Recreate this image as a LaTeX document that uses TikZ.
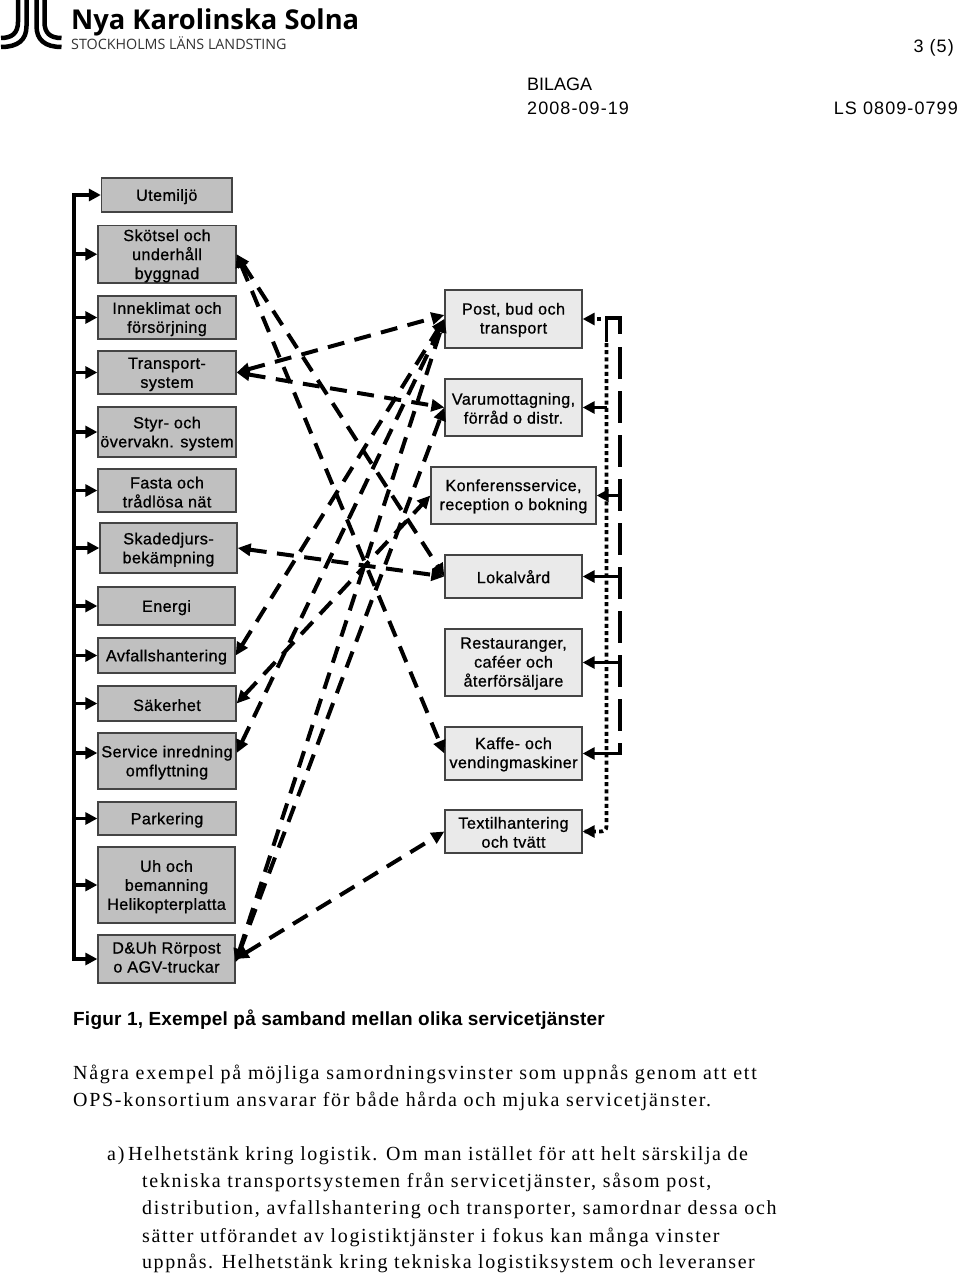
\documentclass[tikz,border=0pt]{standalone}
\usepackage{fontspec}
\usetikzlibrary{arrows.meta,calc}
\setmainfont{Liberation Sans}
\newfontfamily\boxfont[LetterSpace=2.5,FakeBold=0.8]{Liberation Sans}
\newfontfamily\headfont[LetterSpace=6]{Liberation Sans}
\newfontfamily\headplain{Liberation Sans}
\newfontfamily\figfont[LetterSpace=1.1]{Liberation Sans Bold}
\newfontfamily\bodyfont[LetterSpace=8.5]{Liberation Serif}
\newfontfamily\logobold{Open Sans Bold}
\newfontfamily\logoreg{Open Sans}
\definecolor{boxdark}{HTML}{C0C0C0}
\definecolor{boxlight}{HTML}{EAEAEA}
\definecolor{boxline}{HTML}{444444}
\definecolor{logogrey}{HTML}{333333}
\newcommand\leftbox[6]{\node[leftstyle,minimum width=#4pt-#2pt,minimum height=#5pt-#3pt] (#1) at ({(#2+#4)/2},{(#3+#5)/2}) {\rule{0pt}{15pt}#6};}
\newcommand\rightbox[6]{\node[rightstyle,minimum width=#4pt-#2pt,minimum height=#5pt-#3pt] (#1) at ({(#2+#4)/2},{(#3+#5)/2}) {\rule{0pt}{13.5pt}#6};}
\tikzset{
  x=1pt,y=-1pt,
  basebox/.style={draw=boxline,line width=1.3pt,inner sep=0pt,align=center,font=\boxfont\fontsize{16.2}{19}\selectfont},
  leftstyle/.style={basebox,fill=boxdark},
  rightstyle/.style={basebox,fill=boxlight},
  tiptri/.style={-{Triangle[length=12pt,width=12pt]}},
  feed/.style={line width=3.6pt,tiptri},
  bus/.style={line width=4.5pt},
  link/.style={line width=4pt,dash pattern=on 17pt off 10.5pt,{Triangle[length=13pt,width=12pt]}-{Triangle[length=13pt,width=12pt]}},
  longdash/.style={line width=3.8pt,dash pattern=on 32pt off 12pt},
  dotline/.style={line width=3.8pt,dash pattern=on 4pt off 3.2pt},
  headtext/.style={inner sep=0pt,font=\headfont\fontsize{18}{20}\selectfont},
  figtext/.style={inner sep=0pt,anchor=base west,font=\figfont\fontsize{19}{21}\selectfont},
  bodytext/.style={inner sep=0pt,anchor=base west,font=\bodyfont\fontsize{20}{22}\selectfont},
  logostroke/.style={line width=4.5pt,line cap=butt}
}
\begin{document}
\begin{tikzpicture}
\useasboundingbox (0,0) rectangle (960,1276);
% logo
\draw[logostroke] (18,-1) -- (18,22) .. controls (18,33) and (12,38) .. (1,38);
\draw[logostroke] (26.5,-1) -- (26.5,26) .. controls (26.5,40) and (18,47) .. (1,47);
\draw[logostroke] (36.5,-1) -- (36.5,26) .. controls (36.5,40) and (45,47) .. (61.5,47);
\draw[logostroke] (44.5,-1) -- (44.5,22) .. controls (44.5,33) and (50,38) .. (61.5,38);
\node[inner sep=0pt,anchor=base west,font=\logobold\fontsize{27.3}{30}\selectfont] (logoa) at (71,30) {Nya Karolinska Solna};
\node[inner sep=0pt,anchor=base west,text=logogrey,font=\logoreg\fontsize{14.3}{16}\selectfont] (logob) at (71,50) {STOCKHOLMS LÄNS LANDSTING};
% header
\node[headtext,anchor=base east] (pg) at (954,53) {3 (5)};
\node[inner sep=0pt,anchor=base west,font=\headplain\fontsize{18}{20}\selectfont] (bil) at (527,91) {BILAGA};
\node[headtext,anchor=base west] (dat) at (527,115) {2008-09-19};
\node[headtext,anchor=base east] (ref) at (958,115) {LS 0809-0799};
% left boxes
\leftbox{ut}{101.5}{178}{232}{212}{Utemiljö}
\leftbox{sk}{98}{225.5}{236}{283}{Skötsel och\\underhåll\\byggnad}
\leftbox{in}{98}{296}{236}{339}{Inneklimat och\\försörjning}
\leftbox{tr}{98}{351}{236}{394}{Transport-\\system}
\leftbox{st}{98}{407}{236}{457}{Styr- och\\övervakn. system}
\leftbox{fa}{98}{469}{236}{512}{Fasta och\\trådlösa nät}
\leftbox{sd}{100}{523}{237}{573}{Skadedjurs-\\bekämpning}
\leftbox{en}{98}{587}{235}{625}{Energi}
\leftbox{av}{98}{638}{235}{673}{Avfallshantering}
\leftbox{sa}{98}{686}{236}{721}{Säkerhet}
\leftbox{se}{98}{733}{236}{789}{Service inredning\\omflyttning}
\leftbox{pa}{98}{802}{236}{835}{Parkering}
\leftbox{uh}{98}{847}{235}{923}{Uh och\\bemanning\\Helikopterplatta}
\leftbox{du}{98}{935}{235}{983}{D\&Uh Rörpost\\o AGV-truckar\rule[-7pt]{0pt}{7pt}}
% right boxes
\rightbox{po}{445}{290}{582}{348}{Post, bud och\\transport}
\rightbox{va}{445}{379}{582}{436}{Varumottagning,\\förråd o distr.}
\rightbox{ko}{431}{467}{596}{524}{Konferensservice,\\reception o bokning}
\rightbox{lo}{445}{555}{582}{598}{Lokalvård}
\rightbox{re}{445}{629}{582}{696}{Restauranger,\\caféer och\\återförsäljare}
\rightbox{ka}{445}{727}{582}{780}{Kaffe- och\\vendingmaskiner}
\rightbox{te}{445}{810}{582}{853}{Textilhantering\\och tvätt}
% left bus
\coordinate (busl) at (74,0);
\draw[bus] ([yshift=2pt]busl |- ut.west) -- ([yshift=-2pt]busl |- du.west);
\foreach \b in {ut,sk,in,tr,st,fa,sd,en,av,sa,pa,uh,du}
  \draw[feed] ([xshift=-2pt]busl |- \b.west) -- (\b.west);
\draw[feed] ([xshift=-2pt,yshift=8pt]busl |- se.west) -- ([yshift=8pt]se.west);
% right bus
\coordinate (rbl) at (620,0);
\coordinate (rbd) at (606.5,0);
\draw[line width=3.8pt] (606.5,342) -- (606.5,318) -- (621.9,318);
\draw[line width=3.8pt] (620,318) -- (620,334);
\draw[longdash] (620,347) -- (620,754.5);
\draw[dotline] (rbd |- po.east) ++(0,24) -- (606.5,826) .. controls (606.5,830) and (604,831.5) .. (600,831.5) -- (te.east);
\draw[line width=3.6pt,tiptri] (595,831.5) -- (te.east);
\draw[line width=3.6pt,dash pattern=on 4pt off 4pt,tiptri] (601,319) -- (po.east);
\draw[feed] (rbd |- va.east) -- (va.east);
\foreach \b in {ko,lo,re,ka}
  \draw[feed] ([xshift=1.8pt]rbl |- \b.east) -- (\b.east);
% links
\draw[link] (sk.east) -- (lo.west);
\draw[link] (sk.east) -- (ka.west);
\draw[link] (tr.east) -- ([yshift=4pt]po.west);
\draw[link] (tr.east) -- (va.west);
\draw[link] (sd.east) -- (lo.west);
\draw[link] (av.east) -- (po.west);
\draw[link] (sa.east) -- (ko.west);
\draw[link] ([yshift=8pt]se.east) -- (po.west);
\draw[link] ([yshift=-3pt]du.east) -- (po.west);
\draw[link] ([yshift=-3pt]du.east) -- (va.west);
\draw[link] (du.east) -- (te.west);
% text
\node[figtext] (fig) at (73,1025) {Figur 1, Exempel på samband mellan olika servicetjänster};
\node[bodytext] (l1) at (73,1079) {\addfontfeature{LetterSpace=8.7}Några exempel på möjliga samordningsvinster som uppnås genom att ett};
\node[bodytext] (l2) at (73,1106) {OPS-konsortium ansvarar för både hårda och mjuka servicetjänster.};
\node[bodytext] (l3a) at (107,1160) {a)};
\node[bodytext] (l3) at (128,1160) {\addfontfeature{LetterSpace=7.6}Helhetstänk kring logistik. Om man istället för att helt särskilja de};
\node[bodytext] (l4) at (142,1187) {tekniska transportsystemen från servicetjänster, såsom post,};
\node[bodytext] (l5) at (142,1214) {distribution, avfallshantering och transporter, samordnar dessa och};
\node[bodytext] (l6) at (142,1242) {\addfontfeature{LetterSpace=8.1}sätter utförandet av logistiktjänster i fokus kan många vinster};
\node[bodytext] (l7) at (142,1268) {\addfontfeature{LetterSpace=7.7}uppnås. Helhetstänk kring tekniska logistiksystem och leveranser};
\end{tikzpicture}
\end{document}
